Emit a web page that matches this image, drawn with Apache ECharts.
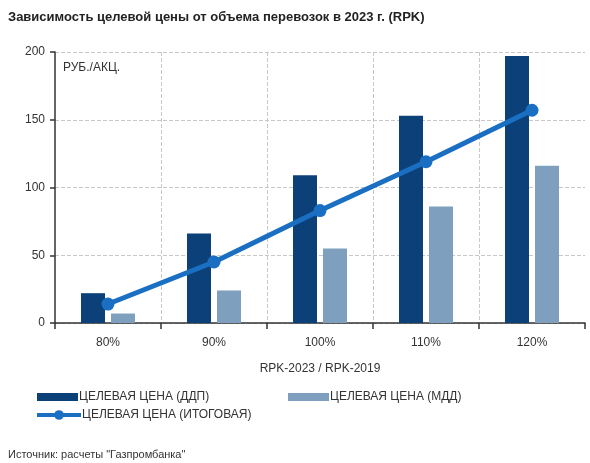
<!DOCTYPE html>
<html><head><meta charset="utf-8">
<script src="https://cdn.jsdelivr.net/npm/echarts@6/dist/echarts.min.js"></script>
<style>html,body{margin:0;padding:0;background:#fff}#c{width:590px;height:463px}</style>
</head><body><div id="c"></div>
<script>
const categories = ['80%', '90%', '100%', '110%', '120%'];
const ddpValues = [22, 66, 109, 153, 197];
const mddValues = [7, 24, 55, 86, 116];
const totalValues = [14, 45, 83, 119, 157];
const yTicks = [0, 50, 100, 150, 200];
const names = ['ЦЕЛЕВАЯ ЦЕНА (ДДП)', 'ЦЕЛЕВАЯ ЦЕНА (МДД)', 'ЦЕЛЕВАЯ ЦЕНА (ИТОГОВАЯ)'];

const font = 'Liberation Sans, Arial, sans-serif';
const chart = echarts.init(document.getElementById('c'));
const legendBase = {orient: 'horizontal', itemGap: 0, textStyle: {fontFamily: font, fontSize: 12, color: '#333', padding: [0,0,0,-4]}, selectedMode: false};
chart.setOption({
  animation: false,
  textStyle: {fontFamily: font},
  title: [
    {text: 'Зависимость целевой цены от объема перевозок в 2023 г. (RPK)', left: 3, top: 6,
     textStyle: {fontSize: 13, fontWeight: 'bold', color: '#222', fontFamily: font}},
    {text: 'Источник: расчеты "Газпромбанка"', left: 3, top: 444,
     textStyle: {fontSize: 11, fontWeight: 'normal', color: '#333', fontFamily: font}},
    {text: 'РУБ./АКЦ.', left: 58, top: 57,
     textStyle: {fontSize: 12, fontWeight: 'normal', color: '#333', fontFamily: font}}
  ],
  legend: [
    Object.assign({}, legendBase, {data: [{name: names[0], icon: 'rect'}], left: 32, top: 386, itemWidth: 41, itemHeight: 8}),
    Object.assign({}, legendBase, {data: [{name: names[1], icon: 'rect'}], left: 283, top: 386, itemWidth: 41, itemHeight: 8}),
    Object.assign({}, legendBase, {data: [names[2]], left: 30, top: 404, itemWidth: 44, itemHeight: 12,
      lineStyle: {width: 4}})
  ],
  grid: {left: 55, right: 5, top: 52, bottom: 140},
  xAxis: {
    type: 'category', data: categories,
    name: 'RPK-2023 / RPK-2019', nameLocation: 'middle', nameGap: 40,
    nameTextStyle: {fontSize: 12, color: '#333', fontFamily: font},
    axisLine: {lineStyle: {color: '#333', width: 1.5}},
    axisTick: {show: true, length: 6, lineStyle: {color: '#333', width: 1.5}},
    axisLabel: {fontSize: 12, color: '#333', margin: 14, fontFamily: font},
    splitLine: {show: true, showMinLine: false, showMaxLine: false, lineStyle: {color: '#c8c8c8', type: [4, 2], width: 1}}
  },
  yAxis: {
    type: 'value', min: 0, max: 200, interval: 50,
    axisLine: {show: true, lineStyle: {color: '#333', width: 1.5}},
    axisTick: {show: true, length: 5, lineStyle: {color: '#333', width: 1.5}},
    axisLabel: {fontSize: 12, color: '#333', margin: 10, fontFamily: font,
      formatter: v => yTicks.includes(v) ? String(v) : ''},
    splitLine: {show: true, lineStyle: {color: '#c8c8c8', type: [4, 2], width: 1}}
  },
  series: [
    {name: names[0], type: 'bar', data: ddpValues, barWidth: 24, barGap: '25%',
     itemStyle: {color: '#0b4079'}},
    {name: names[1], type: 'bar', data: mddValues, barWidth: 24,
     itemStyle: {color: '#7f9fbe'}},
    {name: names[2], type: 'line', data: totalValues, symbol: 'circle', symbolSize: 13,
     lineStyle: {color: '#1a6fc2', width: 5}, itemStyle: {color: '#1a6fc2'}, z: 5}
  ]
});
</script></body></html>
